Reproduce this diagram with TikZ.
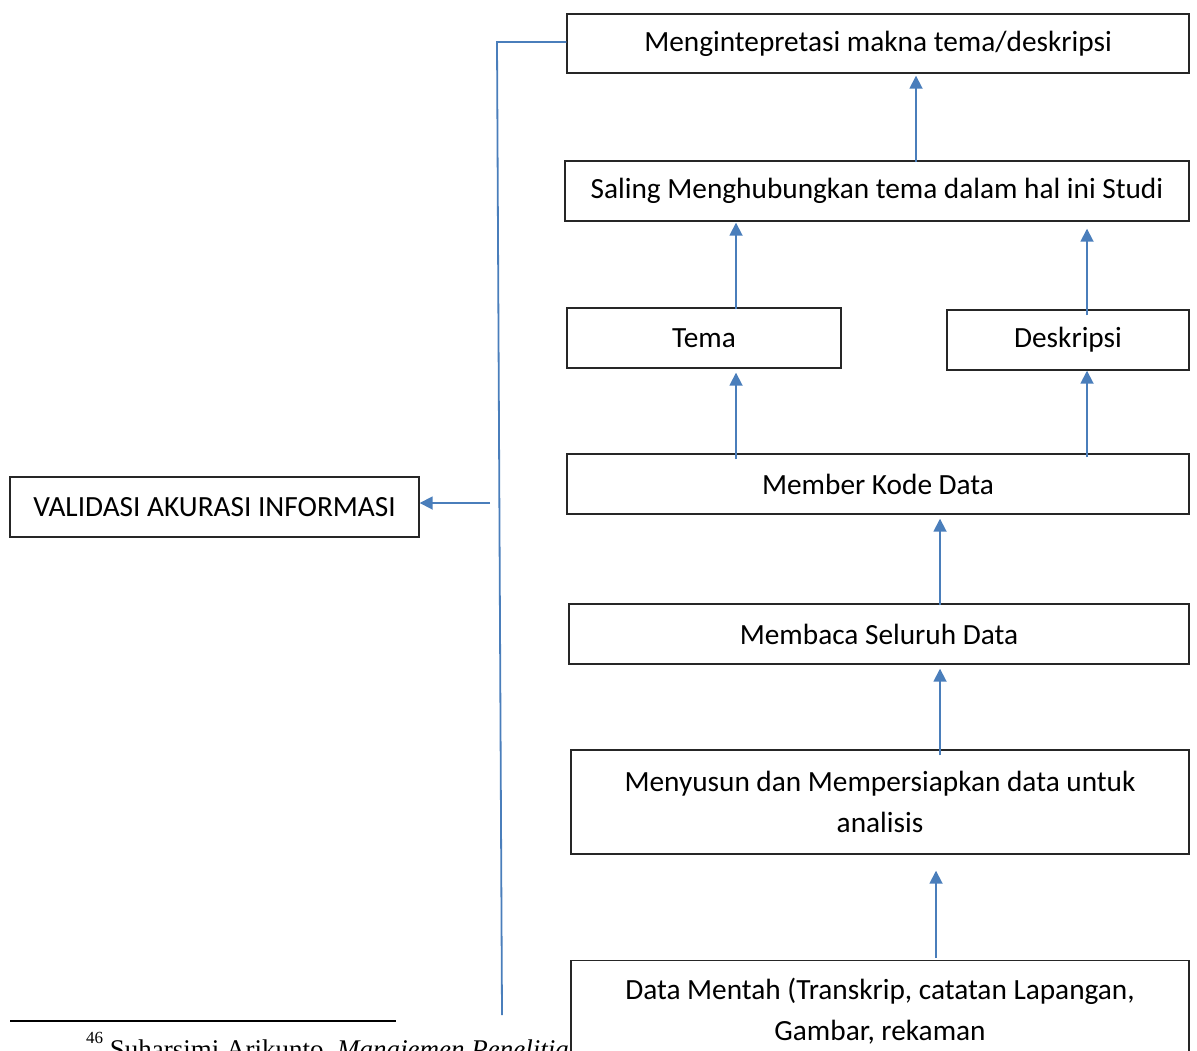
\documentclass[tikz,border=0pt]{standalone}
\usepackage{fontspec}
\setmainfont{Carlito}
\newfontfamily\fnfont{Liberation Serif}
\usetikzlibrary{arrows.meta,calc}
\definecolor{lineblue}{HTML}{4A7EBB}
\definecolor{boxgray}{HTML}{262626}
\begin{document}
\begin{tikzpicture}[x=1pt,y=-1pt,
  box/.style={draw=boxgray,line width=1.4pt,fill=white,inner sep=0pt,font=\fontsize{29.3}{41}\selectfont,align=center},
  arr/.style={draw=lineblue,line width=1.8pt,-{Triangle[length=13pt,width=13pt]}},
  conn/.style={draw=lineblue,line width=1.8pt}]
\useasboundingbox (0,0) rectangle (1197,1050);
\begin{scope}
\clip (0,0) rectangle (1197,1050);
% footnote
\draw[line width=1.6pt] (10,1021) -- (396,1021);
\node[anchor=base west,inner sep=0pt,font=\fontsize{27}{30}\fnfont] (fn) at (86,1058) {\raisebox{0.55em}{\fontsize{17}{20}\selectfont 46} Suharsimi Arikunto, \textit{Manajemen Penelitian}};
% boxes
\node[box,minimum width=622pt,minimum height=59pt] (n1) at (878,43.5) {Mengintepretasi makna tema/deskripsi};
\node[box,minimum width=624pt,minimum height=60pt] (n2) at (877,191) {Saling Menghubungkan tema dalam hal ini Studi};
\node[box,minimum width=274pt,minimum height=60pt] (tema) at (704,338) {Tema};
\node[box,minimum width=242pt,minimum height=60pt] (desk) at (1068,340) {Deskripsi};
\node[box,minimum width=622pt,minimum height=60pt] (kode) at (878,484) {Member Kode Data};
\node[box,minimum width=620pt,minimum height=60pt] (baca) at (879,634) {Membaca Seluruh Data};
\node[box,minimum width=618pt,minimum height=104pt] (susun) at (880,802) {Menyusun dan Mempersiapkan data untuk\\analisis};
\node[box,minimum width=618pt,minimum height=110pt,anchor=north] (mentah) at (880,960) {Data Mentah (Transkrip, catatan Lapangan,\\Gambar, rekaman\strut};
\node[box,minimum width=409pt,minimum height=60pt] (val) at (214.5,507) {VALIDASI AKURASI INFORMASI};
% arrows
\draw[arr] ($(916,0 |- n2.north)+(0,2)$) -- ($(916,0 |- n1.south)+(0,2)$);
\draw[arr] ($(736,0 |- tema.north)+(0,2)$) -- ($(736,0 |- n2.south)+(0,1)$);
\draw[arr] ($(1087,0 |- desk.north)+(0,6)$) -- ($(1087,0 |- n2.south)+(0,7)$);
\draw[arr] ($(736,0 |- kode.north)+(0,6)$) -- ($(736,0 |- tema.south)+(0,4)$);
\draw[arr] ($(1087,0 |- kode.north)+(0,4)$) -- ($(1087,0 |- desk.south)+(0,0)$);
\draw[arr] ($(940,0 |- baca.north)+(0,2)$) -- ($(940,0 |- kode.south)+(0,4)$);
\draw[arr] ($(940,0 |- susun.north)+(0,6)$) -- ($(940,0 |- baca.south)+(0,4)$);
\draw[arr] ($(936,0 |- mentah.north)+(0,-2)$) -- ($(936,0 |- susun.south)+(0,16)$);
% validation line
\coordinate (tl) at (497,42);
\coordinate (bl) at (502,1015);
\draw[conn] (n1.west |- tl) -- (tl) -- (bl);
\coordinate (vs) at (490,503);
\draw[arr] (vs) -- (val.east |- vs);
\end{scope}
\end{tikzpicture}
\end{document}
